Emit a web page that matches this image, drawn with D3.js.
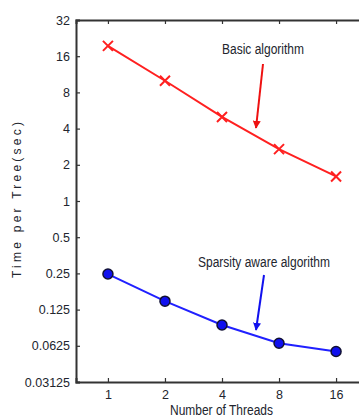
<!DOCTYPE html>
<html><head><meta charset="utf-8">
<script src="https://cdn.jsdelivr.net/npm/d3@7"></script>
<style>
body{margin:0;background:#fff;}
text{font-family:"Liberation Sans",Arial,sans-serif;fill:#22252e;}
</style></head>
<body><svg id="c" width="359" height="419"></svg>
<script>
const threads = [1, 2, 4, 8, 16];
const basicTimes = [19.5, 10, 5.0, 2.7, 1.6];
const sparseTimes = [0.247, 0.147, 0.093, 0.0656, 0.056];
const yTicks = [0.03125, 0.0625, 0.125, 0.25, 0.5, 1, 2, 4, 8, 16, 32];
const yTickLabels = ["0.03125", "0.0625", "0.125", "0.25", "0.5", "1", "2", "4", "8", "16", "32"];
const xTickLabels = ["1", "2", "4", "8", "16"];

const svg = d3.select("#c");
const L = 76, T = 20, B = 382, R = 368;
const x = d3.scaleLog().base(2).domain([Math.pow(2, -0.56), 16 * Math.pow(2, 0.56)]).range([L, R]);
const y = d3.scaleLog().base(2).domain([0.03125, 32]).range([B, T]);

// axes
const ax = svg.append("g").attr("class", "axes");
const xb = d3.axisBottom(x).tickValues(threads).tickSize(-4).tickPadding(8).tickFormat((d, i) => xTickLabels[i]);
ax.append("g").attr("transform", `translate(0,${B})`).call(xb);
const xt = d3.axisTop(x).tickValues(threads).tickSize(-4).tickFormat("");
ax.append("g").attr("transform", `translate(0,${T})`).call(xt);
const yl = d3.axisLeft(y).tickValues(yTicks).tickSize(-4).tickPadding(6).tickFormat((d, i) => yTickLabels[i]);
ax.append("g").attr("transform", `translate(${L},0)`).call(yl);
ax.selectAll(".domain").attr("stroke", "#333").attr("stroke-width", 2);
ax.selectAll(".tick line").attr("stroke", "#333").attr("stroke-width", 1.2);
ax.selectAll(".tick text").style("font-size", "12.5px").attr("fill", "#22252e");

// lines
const line = d3.line().x((d, i) => x(threads[i])).y(d => y(d));
svg.append("path").datum(basicTimes).attr("d", line).attr("fill", "none").attr("stroke", "#ff2020").attr("stroke-width", 2);
svg.append("path").datum(sparseTimes).attr("d", line).attr("fill", "none").attr("stroke", "#2020ff").attr("stroke-width", 2);

// markers
svg.selectAll(".xm").data(basicTimes).enter().append("path")
  .attr("d", (d, i) => { const cx = x(threads[i]), cy = y(d), s = 5; return `M${cx-s},${cy-s}L${cx+s},${cy+s}M${cx-s},${cy+s}L${cx+s},${cy-s}`; })
  .attr("stroke", "#ff2020").attr("stroke-width", 2);
svg.selectAll(".om").data(sparseTimes).enter().append("circle")
  .attr("cx", (d, i) => x(threads[i])).attr("cy", d => y(d)).attr("r", 5)
  .attr("fill", "#1010ee").attr("stroke", "#111133").attr("stroke-width", 1.5);

// annotations
const defs = svg.append("defs");
function marker(id, col) {
  defs.append("marker").attr("id", id).attr("viewBox", "0 0 10 10").attr("refX", 9).attr("refY", 5)
    .attr("markerWidth", 4).attr("markerHeight", 4).attr("orient", "auto")
    .append("path").attr("d", "M0,0L10,5L0,10z").attr("fill", col);
}
marker("ar", "#ee1111"); marker("ab", "#1111ee");
svg.append("text").attr("x", 222).attr("y", 54).attr("textLength", 82).attr("lengthAdjust", "spacingAndGlyphs")
  .style("font-size", "14px").text("Basic algorithm");
svg.append("line").attr("x1", 263).attr("y1", 64).attr("x2", 256).attr("y2", 128).attr("stroke", "#ee1111").attr("stroke-width", 2).attr("marker-end", "url(#ar)");
svg.append("text").attr("x", 198).attr("y", 267).attr("textLength", 132).attr("lengthAdjust", "spacingAndGlyphs")
  .style("font-size", "14px").text("Sparsity aware algorithm");
svg.append("line").attr("x1", 264).attr("y1", 275).attr("x2", 256).attr("y2", 330).attr("stroke", "#1111ee").attr("stroke-width", 2).attr("marker-end", "url(#ab)");

// axis labels
svg.append("text").attr("x", 170).attr("y", 415).attr("textLength", 103).attr("lengthAdjust", "spacingAndGlyphs")
  .style("font-size", "14px").text("Number of Threads");
svg.append("text").attr("transform", "translate(21,278) rotate(-90)").attr("textLength", 156).attr("lengthAdjust", "spacing")
  .style("font-size", "12px").text("Time per Tree(sec)");
</script></body></html>
